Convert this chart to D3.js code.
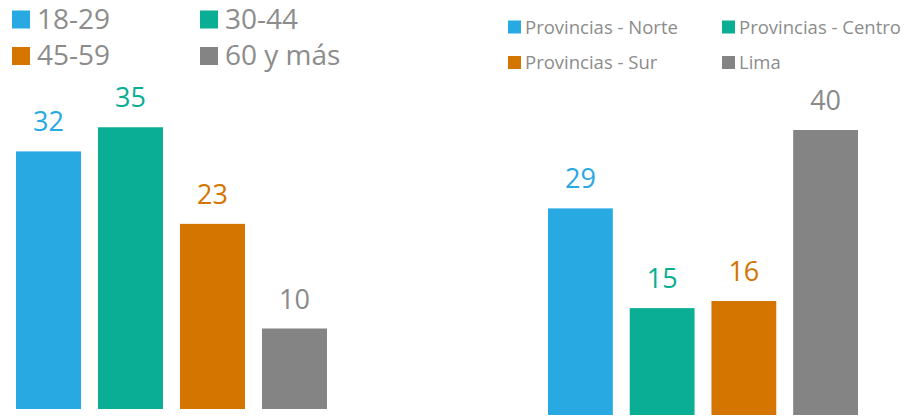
<!DOCTYPE html>
<html>
<head>
<meta charset="utf-8">
<script src="https://cdn.jsdelivr.net/npm/d3@7"></script>
<style>
  body { margin: 0; background: #fff; }
  text { font-family: "Open Sans", sans-serif; }
</style>
</head>
<body>
<div id="plot"></div>
<script>
// data
ageGroups = ["18-29", "30-44", "45-59", "60 y más"]
ageValues = [32, 35, 23, 10]
regions = ["Provincias - Norte", "Provincias - Centro", "Provincias - Sur", "Lima"]
regionValues = [29, 15, 16, 40]
colors = ["#29a9e1", "#0aae94", "#d47500", "#848484"]
labelColors = ["#29a9e1", "#0aae94", "#d47500", "#8a8a8a"]
textGray = "#8c8c8c"

W = 905, H = 418

svg = d3.select("#plot").append("svg").attr("width", W).attr("height", H).attr("viewBox", [0, 0, W, H])

function panel(cats, vals, xr, yr, labelSize) {
  x = d3.scaleBand().domain(cats).range(xr).paddingInner(0.207).paddingOuter(0)
  y = d3.scaleLinear().domain([0, 40]).range(yr)
  data = cats.map((c, i) => ({cat: c, value: vals[i], i: i}))
  g = svg.append("g")
  g.selectAll("rect")
    .data(data)
    .join("rect")
      .attr("x", d => x(d.cat))
      .attr("y", d => y(d.value))
      .attr("width", x.bandwidth())
      .attr("height", d => y(0) - y(d.value))
      .attr("fill", d => colors[d.i])
  g.selectAll("text")
    .data(data)
    .join("text")
      .attr("x", d => x(d.cat) + x.bandwidth() / 2)
      .attr("y", d => y(d.value) - 20)
      .attr("text-anchor", "middle")
      .attr("font-size", labelSize)
      .attr("fill", d => labelColors[d.i])
      .text(d => d.value)
}

panel(ageGroups, ageValues, [16, 327], [409, 87], 27)
panel(regions, regionValues, [548, 858], [415, 130], 27)

// legends
function legend(cats, x0, colStep, y0, rowStep, box, size, gap) {
  lg = svg.append("g")
  items = lg.selectAll("g")
    .data(cats)
    .join("g")
      .attr("transform", (d, i) => `translate(${x0 + (i % 2) * colStep},${y0 + Math.floor(i / 2) * rowStep})`)
  items.append("rect")
    .attr("x", 0).attr("y", -box)
    .attr("width", box).attr("height", box)
    .attr("fill", (d, i) => colors[i])
  items.append("text")
    .attr("x", box + gap)
    .attr("y", 0)
    .attr("font-size", size)
    .attr("fill", textGray)
    .text(d => d)
}

legend(ageGroups, 12, 188, 28.5, 36.5, 18, 28, 7)
legend(regions, 508, 214, 33.5, 35.5, 13, 18.5, 4)
</script>
</body>
</html>
